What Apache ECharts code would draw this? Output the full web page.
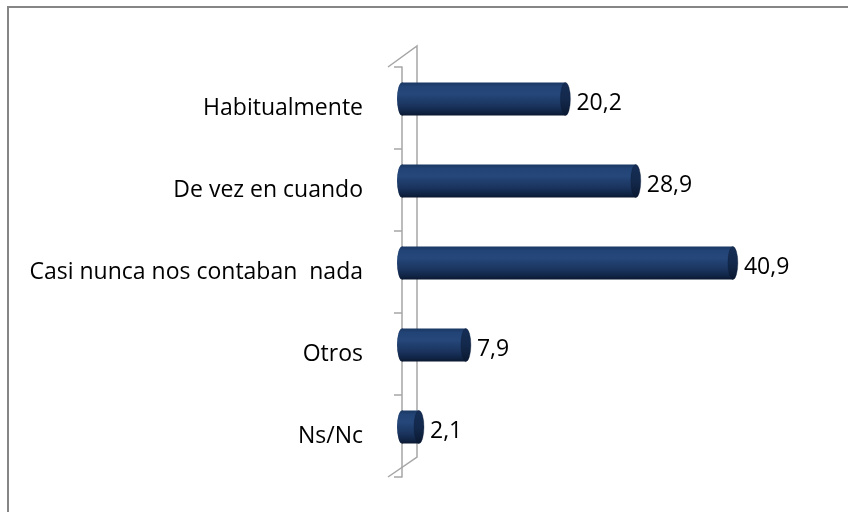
<!DOCTYPE html>
<html>
<head>
<meta charset="utf-8">
<script src="https://cdn.jsdelivr.net/npm/echarts@6/dist/echarts.min.js"></script>
<style>
html,body{margin:0;padding:0;background:#fff;}
#chart{width:848px;height:512px;}
</style>
</head>
<body>
<div id="chart"></div>
<script>
const categories = ['Habitualmente', 'De vez en cuando', 'Casi nunca nos contaban  nada', 'Otros', 'Ns/Nc'];
const values = [20.2, 28.9, 40.9, 7.9, 2.1];

const chart = echarts.init(document.getElementById('chart'), null, {renderer: 'canvas'});
const FONT = '"Open Sans", sans-serif';
const wallColor = '#a6a6a6';

function fmt(v) { return v.toFixed(1).replace('.', ','); }

const bodyGrad = new echarts.graphic.LinearGradient(0, 0, 0, 1, [
  {offset: 0, color: '#1a3762'},
  {offset: 0.12, color: '#224375'},
  {offset: 0.35, color: '#25477a'},
  {offset: 0.7, color: '#1a345e'},
  {offset: 0.9, color: '#102444'},
  {offset: 1, color: '#0a1830'}
]);
const capGrad = new echarts.graphic.LinearGradient(0, 0, 0, 1, [
  {offset: 0, color: '#162e56'},
  {offset: 0.5, color: '#13294c'},
  {offset: 1, color: '#0a1830'}
]);

// front wall of the 3D plot sits 14px (about 1.73 units) left of the zero position
const depthUnits = 1.73;

chart.setOption({
  animation: false,
  backgroundColor: '#fff',
  grid: {left: 388, top: 67, height: 410, width: 418.5},
  xAxis: {type: 'value', min: -depthUnits, max: 50, show: false},
  yAxis: {
    type: 'category',
    data: categories,
    inverse: true,
    axisLine: {show: true, lineStyle: {color: wallColor, width: 1.5}},
    axisTick: {show: true, length: 8, lineStyle: {color: wallColor, width: 1.5}},
    axisLabel: {margin: 25, fontFamily: FONT, fontSize: 23, color: '#000'},
    splitLine: {show: false}
  },
  graphic: [
    {type: 'polyline', silent: true, shape: {points: [[388, 67], [417, 46], [417, 457], [388, 477]]},
     style: {stroke: wallColor, lineWidth: 1.5, fill: null}}
  ],
  series: [{
    type: 'custom',
    data: values.map((v, i) => [v, i]),
    encode: {x: 0, y: 1},
    renderItem: function (params, api) {
      const s = api.coord([0, api.value(1)]);
      const e = api.coord([api.value(0), api.value(1)]);
      const h = 33, r = h / 2, rx = 5;
      const cy = s[1] - 9;
      return {
        type: 'group',
        children: [
          {type: 'circle', shape: {cx: 0, cy: 0, r: r}, x: s[0], y: cy, scaleX: rx / r,
           style: {fill: bodyGrad}},
          {type: 'rect', shape: {x: s[0], y: cy - r, width: Math.max(e[0] - s[0], 0), height: h},
           style: {fill: bodyGrad}},
          {type: 'circle', shape: {cx: 0, cy: 0, r: r}, x: e[0], y: cy, scaleX: rx / r,
           style: {fill: capGrad, stroke: '#0d1d38', lineWidth: 0.5}},
          {type: 'text', x: e[0] + rx + 6, y: cy + 4,
           style: {text: fmt(api.value(0)), fill: '#000', font: '23px ' + FONT,
                   align: 'left', verticalAlign: 'middle'}}
        ]
      };
    }
  }]
});
</script>
<div style="position:absolute;left:7px;top:6px;width:900px;height:600px;border-left:2px solid #868686;border-top:2px solid #868686;pointer-events:none;"></div>
</body>
</html>
